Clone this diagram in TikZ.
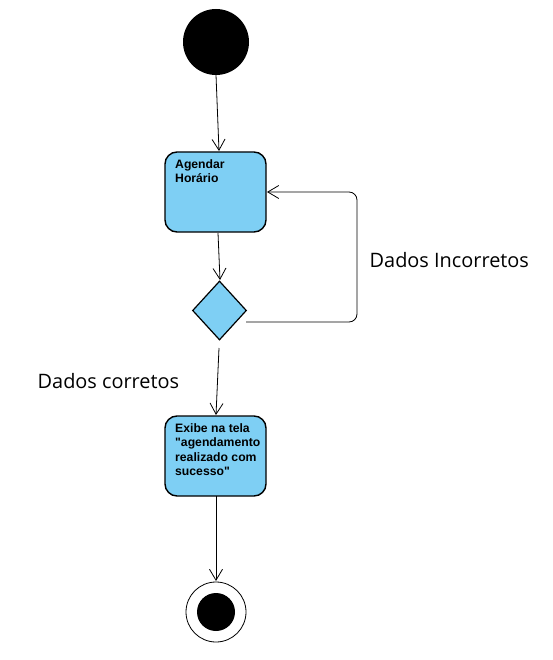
\documentclass[tikz,border=0pt]{standalone}
\usepackage{fontspec}
\setmainfont{Liberation Sans}
\newfontfamily\labelfont{Open Sans}
\usetikzlibrary{arrows.meta,shapes.geometric}
\definecolor{actfill}{RGB}{126,207,244}
\begin{document}
\begin{tikzpicture}[x=1pt,y=-1pt,
  actbox/.style={draw=black,line width=1.4pt,fill=actfill,rounded corners=12pt,minimum width=101pt,minimum height=80pt,inner sep=0pt},
  acttext/.style={font=\fontsize{12.2}{14.6}\selectfont\bfseries,align=left,anchor=north west,inner sep=0pt},
  decision/.style={draw=black,line width=1.2pt,fill=actfill,diamond,minimum width=54pt,minimum height=59pt,inner sep=0pt,aspect=0.92},
  flow/.style={line width=0.8pt,-{Straight Barb[length=11pt,width=13pt,line width=0.8pt]}},
  guard/.style={font=\labelfont\fontsize{19.9}{22}\selectfont,anchor=west,inner sep=0pt}]
\useasboundingbox (0,0) rectangle (552,660);
\node[circle,fill=black,minimum size=66pt,inner sep=0pt] (start) at (216,42) {};
\node[actbox] (a1) at (215.5,192) {};
\node[acttext] (t1) at (175,159) {Agendar\\Horário};
\node[decision] (d) at (219.5,310.5) {};
\node[actbox] (a2) at (215.5,456) {};
\node[acttext] (t2) at (175,423) {Exibe na tela\\\textquotedbl agendamento\\realizado com\\sucesso\textquotedbl};
\node[circle,draw=black,line width=0.8pt,fill=white,minimum size=60pt,inner sep=0pt] (endo) at (216,612) {};
\node[circle,fill=black,minimum size=38pt,inner sep=0pt] (endi) at (216,612) {};
\coordinate (s1) at (216,75);
\coordinate (e1) at (219,151);
\coordinate (s2) at (218,233);
\coordinate (e2) at (220,280);
\coordinate (s3) at (246,322);
\coordinate (c3) at (357,322);
\coordinate (c4) at (357,192);
\coordinate (e3) at (267,192);
\coordinate (s4) at (219,348);
\coordinate (e4) at (216,415);
\coordinate (s5) at (216,496);
\coordinate (e5) at (216,581);
\draw[flow] (s1) -- (e1);
\draw[flow] (s2) -- (e2);
\draw[flow,rounded corners=8pt] (s3) -- (c3) -- (c4) -- (e3);
\draw[flow] (s4) -- (e4);
\draw[flow] (s5) -- (e5);
\node[guard] (g1) at (369.5,260) {Dados Incorretos};
\node[guard] (g2) at (37.5,381) {Dados corretos};
\end{tikzpicture}
\end{document}
